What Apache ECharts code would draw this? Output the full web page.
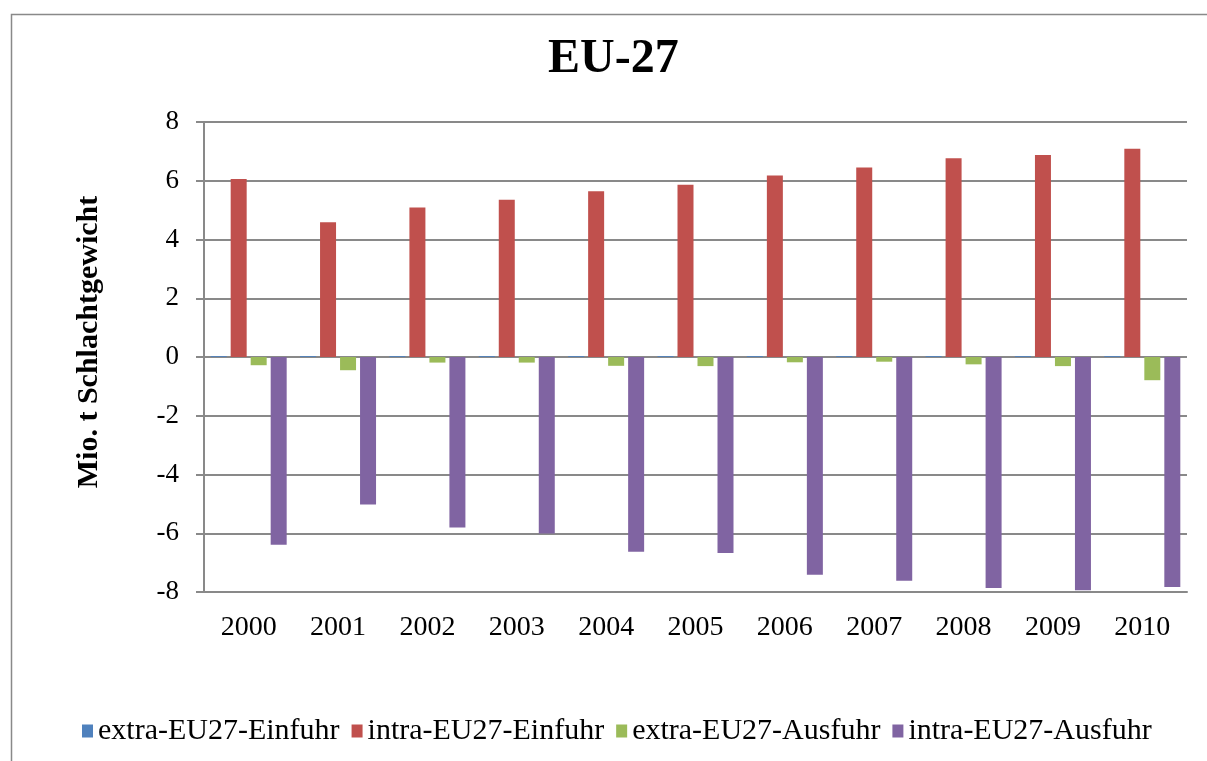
<!DOCTYPE html>
<html>
<head>
<meta charset="utf-8">
<script src="https://cdn.jsdelivr.net/npm/echarts@6/dist/echarts.min.js"></script>
<style>
html,body{margin:0;padding:0;background:#fff;}
#chart{width:1207px;height:761px;}
</style>
</head>
<body>
<div id="chart"></div>
<script>
const categories = ['2000','2001','2002','2003','2004','2005','2006','2007','2008','2009','2010'];
const extraEinfuhr = [0.03,0.03,0.03,0.03,0.03,0.03,0.03,0.03,0.03,0.03,0.03];
const intraEinfuhr = [6.06,4.59,5.09,5.35,5.64,5.86,6.18,6.45,6.77,6.88,7.09];
const extraAusfuhr = [-0.28,-0.45,-0.19,-0.19,-0.30,-0.31,-0.18,-0.16,-0.25,-0.31,-0.79];
const intraAusfuhr = [-6.39,-5.02,-5.80,-6.01,-6.63,-6.67,-7.41,-7.62,-7.86,-7.94,-7.83];
const seriesNames = ['extra-EU27-Einfuhr','intra-EU27-Einfuhr','extra-EU27-Ausfuhr','intra-EU27-Ausfuhr'];
const colors = ['#4F81BD','#C0504D','#9BBB59','#8064A2'];
const yTicks = {min:-8, max:8, interval:2};

const FONT = '"Liberation Serif", "Times New Roman", serif';
const chart = echarts.init(document.getElementById('chart'), null, {renderer:'canvas'});
const dataSets = [extraEinfuhr, intraEinfuhr, extraAusfuhr, intraAusfuhr];
chart.setOption({
  animation:false,
  backgroundColor:'#fff',
  color: colors,
  graphic:[{type:'rect', left:9, top:12, shape:{width:1220, height:780}, style:{fill:'none', stroke:'#898989', lineWidth:1.5}, z:-1}],
  title:{text:'EU-27', left:548, top:36, padding:0, textStyle:{fontFamily:FONT, fontSize:48, fontWeight:'bold', color:'#000'}},
  grid:{left:204, right:20, top:122, bottom:169},
  legend:{bottom:15, left:82, padding:0, itemWidth:11, itemHeight:13, itemGap:12, icon:'rect',
    textStyle:{fontFamily:FONT, fontSize:30, color:'#000'}, data:seriesNames},
  xAxis:{type:'category', data:categories,
    axisLine:{onZero:false, lineStyle:{color:'#898989', width:2}},
    axisTick:{show:false},
    axisLabel:{fontFamily:FONT, fontSize:28, color:'#000', margin:22}},
  yAxis:{type:'value', min:yTicks.min, max:yTicks.max, interval:yTicks.interval,
    name:'Mio. t Schlachtgewicht', nameLocation:'middle', nameGap:100, nameRotate:90,
    nameTextStyle:{fontFamily:FONT, fontSize:30, fontWeight:'bold', color:'#000', padding:[0,0,0,30]},
    axisLine:{show:true, lineStyle:{color:'#898989', width:2}},
    axisTick:{show:true, length:8, lineStyle:{color:'#898989', width:2}},
    axisLabel:{fontFamily:FONT, fontSize:27, color:'#000', margin:25},
    splitLine:{lineStyle:{color:'#898989', width:2}}},
  series: seriesNames.map((n,i)=>({name:n, type:'bar', data:dataSets[i], barWidth:16, barGap:'25%', itemStyle:{color:colors[i]}}))
});
</script>
</body>
</html>
